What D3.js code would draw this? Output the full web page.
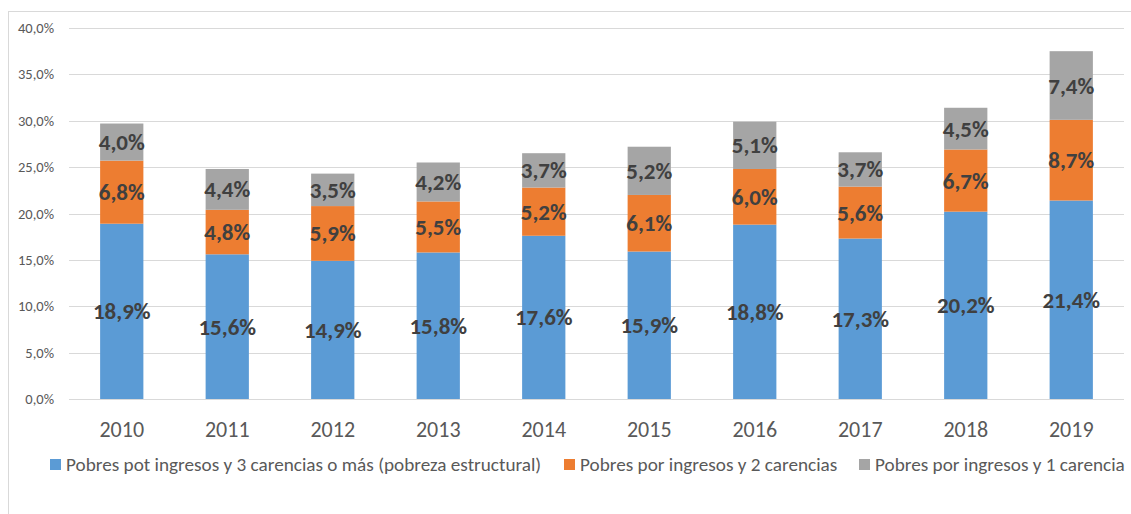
<!DOCTYPE html>
<html>
<head>
<meta charset="utf-8">
<script src="https://cdn.jsdelivr.net/npm/d3@7"></script>
<style>
  body { margin: 0; background: #fff; }
  svg { font-family: Carlito, Calibri, "Open Sans", "Noto Sans", sans-serif; }
</style>
</head>
<body>
<svg id="chart" width="1131" height="514"></svg>
<script>
// datos del gráfico
var years = ['2010','2011','2012','2013','2014','2015','2016','2017','2018','2019'];
var tres_carencias = [18.9, 15.6, 14.9, 15.8, 17.6, 15.9, 18.8, 17.3, 20.2, 21.4];
var dos_carencias = [6.8, 4.8, 5.9, 5.5, 5.2, 6.1, 6.0, 5.6, 6.7, 8.7];
var una_carencia = [4.0, 4.4, 3.5, 4.2, 3.7, 5.2, 5.1, 3.7, 4.5, 7.4];
var series_names = ['Pobres pot ingresos y 3 carencias o más (pobreza estructural)', 'Pobres por ingresos y 2 carencias', 'Pobres por ingresos y 1 carencia'];
var y_ticks = [0, 5, 10, 15, 20, 25, 30, 35, 40];

var colors = ['#5B9BD5', '#ED7D31', '#A5A5A5'];

var svg = d3.select('#chart');

// marco del gráfico
svg.append('rect')
    .attr('x', 8.5).attr('y', 11.5)
    .attr('width', 1140).attr('height', 520)
    .attr('fill', 'none').attr('stroke', '#D9D9D9');

var m_left = 69, m_right = 1124, m_top = 28, m_bottom = 399;

var x = d3.scaleBand().domain(years).range([m_left, m_right]).paddingInner(0.59).paddingOuter(0.295);
var y = d3.scaleLinear().domain([0, 40]).range([m_bottom, m_top]);

// líneas de cuadrícula
svg.append('g').selectAll('line')
    .data(y_ticks).enter().append('line')
    .attr('x1', m_left).attr('x2', m_right)
    .attr('y1', d => Math.round(y(d)) + 0.5).attr('y2', d => Math.round(y(d)) + 0.5)
    .attr('stroke', '#D9D9D9').attr('stroke-width', 1);

// etiquetas eje y
svg.append('g').selectAll('text')
    .data(y_ticks).enter().append('text')
    .attr('x', 54).attr('y', d => y(d))
    .attr('dy', '0.35em')
    .attr('text-anchor', 'end')
    .attr('font-size', 14.5)
    .attr('fill', '#595959')
    .text(d => d3.format('.1f')(d).replace('.', ',') + '%');

// apilar datos
var rows = years.map((yr, i) => ({year: yr, s0: tres_carencias[i], s1: dos_carencias[i], s2: una_carencia[i]}));
var stack = d3.stack().keys(['s0', 's1', 's2']);
var layers = stack(rows);

var g = svg.append('g');
layers.forEach((layer, k) => {
    g.append('g').selectAll('rect')
        .data(layer).enter().append('rect')
        .attr('x', d => x(d.data.year))
        .attr('width', x.bandwidth())
        .attr('y', d => y(d[1]))
        .attr('height', d => y(d[0]) - y(d[1]))
        .attr('fill', colors[k]);
});

// etiquetas de datos
layers.forEach((layer, k) => {
    g.append('g').selectAll('text')
        .data(layer).enter().append('text')
        .attr('x', d => x(d.data.year) + x.bandwidth() / 2)
        .attr('y', d => y((d[0] + d[1]) / 2))
        .attr('dy', '0.35em')
        .attr('text-anchor', 'middle')
        .attr('font-size', 23)
        .attr('font-weight', 'bold')
        .attr('fill', '#404040')
        .text(d => d3.format('.1f')(d[1] - d[0]).replace('.', ',') + '%');
});

// etiquetas eje x
svg.append('g').selectAll('text')
    .data(years).enter().append('text')
    .attr('x', d => x(d) + x.bandwidth() / 2)
    .attr('y', 429)
    .attr('dy', '0.35em')
    .attr('text-anchor', 'middle')
    .attr('font-size', 22)
    .attr('fill', '#595959')
    .text(d => d);

// leyenda
var legend_x = [50, 564, 859];
var legend = svg.append('g').selectAll('g')
    .data(series_names).enter().append('g')
    .attr('transform', (d, i) => `translate(${legend_x[i]},464)`);
legend.append('rect')
    .attr('x', 0).attr('y', -5).attr('width', 11).attr('height', 11)
    .attr('fill', (d, i) => colors[i]);
legend.append('text')
    .attr('x', 16).attr('y', 0).attr('dy', '0.35em')
    .attr('font-size', 19.2)
    .attr('fill', '#595959')
    .text(d => d);
</script>
</body>
</html>
